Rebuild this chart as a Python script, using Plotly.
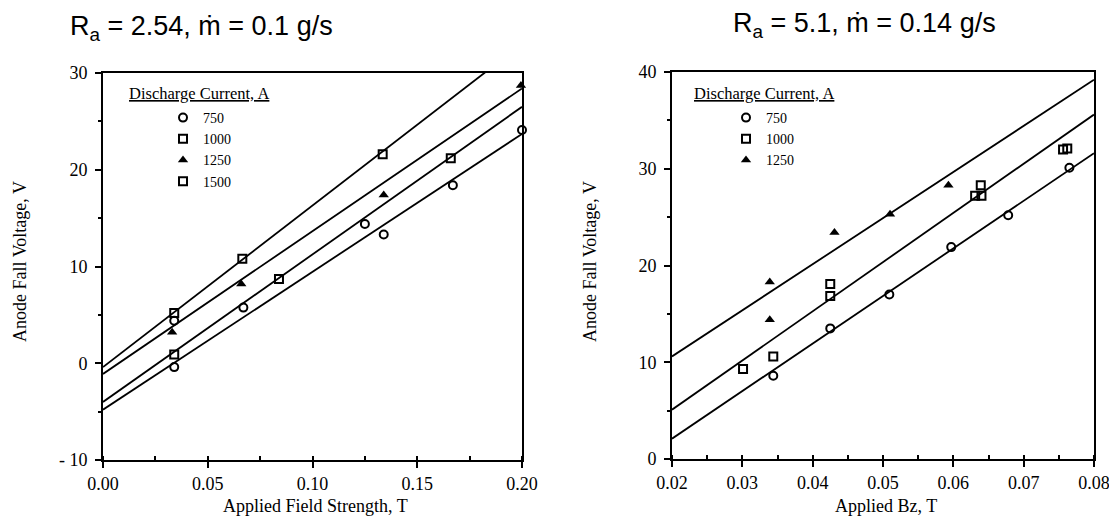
import plotly.graph_objects as go

# ---------------- Left panel (Ra = 2.54, mdot = 0.1 g/s) ----------------
L_750_x = [0.034, 0.034, 0.067, 0.125, 0.134, 0.167, 0.200]
L_750_y = [-0.4, 4.4, 5.75, 14.4, 13.3, 18.4, 24.1]
L_1000_x = [0.034, 0.084, 0.166]
L_1000_y = [0.9, 8.7, 21.2]
L_1250_x = [0.033, 0.066, 0.134, 0.1995]
L_1250_y = [3.2, 8.2, 17.4, 28.7]
L_1500_x = [0.034, 0.0665, 0.1335]
L_1500_y = [5.2, 10.8, 21.6]
# fitted lines: value at x=0.00 and at x=0.20
L_fit_x = [0.0, 0.2]
L_fit_y = [[-0.4, 33.0], [-1.1, 28.4], [-4.0, 26.5], [-4.8, 23.7]]

# ---------------- Right panel (Ra = 5.1, mdot = 0.14 g/s) ----------------
R_750_x = [0.0344, 0.0425, 0.0509, 0.0597, 0.0678, 0.0765]
R_750_y = [8.6, 13.5, 17.0, 21.9, 25.2, 30.1]
R_1000_x = [0.0301, 0.0344, 0.0425, 0.0425, 0.0631, 0.0640, 0.0639, 0.0756, 0.0762]
R_1000_y = [9.3, 10.6, 16.85, 18.1, 27.2, 27.2, 28.3, 32.0, 32.1]
R_1250_x = [0.0339, 0.0339, 0.0431, 0.0510, 0.0593]
R_1250_y = [14.4, 18.3, 23.4, 25.3, 28.3]
# fitted lines: value at x=0.02 and at x=0.08
R_fit_x = [0.02, 0.08]
R_fit_y = [[10.6, 39.2], [5.1, 35.6], [2.1, 31.6]]

L_yticks = [-10, 0, 10, 20, 30]
L_yticktext = ["- 10", "0", "10", "20", "30"]
L_xticks = [0.0, 0.05, 0.10, 0.15, 0.20]
L_xticktext = ["0.00", "0.05", "0.10", "0.15", "0.20"]
R_yticks = [0, 10, 20, 30, 40]
R_xticks = [0.02, 0.03, 0.04, 0.05, 0.06, 0.07, 0.08]
R_xticktext = ["0.02", "0.03", "0.04", "0.05", "0.06", "0.07", "0.08"]

SERIF = "Liberation Serif"
SANS = "Liberation Sans"
OFF = 8  # page body margin
W, H = 1117 - OFF, 523 - OFF

fig = go.Figure()

mk_circle = dict(symbol="circle-open", size=8, color="black", line=dict(width=2))
mk_square = dict(symbol="square-open", size=8, color="black", line=dict(width=2))
mk_tri = dict(symbol="triangle-up", size=9, color="black", line=dict(width=0))

for yy in L_fit_y:
    fig.add_trace(go.Scatter(x=L_fit_x, y=yy, mode="lines", line=dict(color="black", width=1.8),
                             showlegend=False, xaxis="x", yaxis="y", hoverinfo="skip"))
for yy in R_fit_y:
    fig.add_trace(go.Scatter(x=R_fit_x, y=yy, mode="lines", line=dict(color="black", width=1.8),
                             showlegend=False, xaxis="x2", yaxis="y2", hoverinfo="skip"))

fig.add_trace(go.Scatter(x=L_750_x, y=L_750_y, mode="markers", marker=mk_circle, name="750",
                         legend="legend", cliponaxis=False))
fig.add_trace(go.Scatter(x=L_1000_x, y=L_1000_y, mode="markers", marker=mk_square, name="1000",
                         legend="legend", cliponaxis=False))
fig.add_trace(go.Scatter(x=L_1250_x, y=L_1250_y, mode="markers", marker=mk_tri, name="1250",
                         legend="legend", cliponaxis=False))
fig.add_trace(go.Scatter(x=L_1500_x, y=L_1500_y, mode="markers", marker=mk_square, name="1500",
                         legend="legend", cliponaxis=False))

fig.add_trace(go.Scatter(x=R_750_x, y=R_750_y, mode="markers", marker=mk_circle, name="750",
                         legend="legend2", xaxis="x2", yaxis="y2", cliponaxis=False))
fig.add_trace(go.Scatter(x=R_1000_x, y=R_1000_y, mode="markers", marker=mk_square, name="1000",
                         legend="legend2", xaxis="x2", yaxis="y2", cliponaxis=False))
fig.add_trace(go.Scatter(x=R_1250_x, y=R_1250_y, mode="markers", marker=mk_tri, name="1250",
                         legend="legend2", xaxis="x2", yaxis="y2", cliponaxis=False))


def px_x(p):
    return (p - OFF) / W


def px_y(p):
    return 1 - (p - OFF) / H


axis_common = dict(showline=True, linecolor="black", linewidth=2, mirror=True, showgrid=False,
                   zeroline=False, ticks="outside", ticklen=6, tickwidth=1.5, tickcolor="black",
                   automargin=False,
                   tickfont=dict(family=SERIF, size=18, color="black"))

fig.update_layout(
    width=W, height=H, paper_bgcolor="white", plot_bgcolor="white",
    margin=dict(l=0, r=0, t=0, b=0, autoexpand=False),
    xaxis=dict(domain=[px_x(103), px_x(522)], range=[0, 0.2], tickvals=L_xticks, ticktext=L_xticktext,
               minor=dict(dtick=0.025, ticks="inside", ticklen=4, tickcolor="black"),
               anchor="y", **axis_common),
    yaxis=dict(domain=[px_y(460), px_y(73)], range=[-10, 30], tickvals=L_yticks, ticktext=L_yticktext,
               minor=dict(dtick=5, ticks="outside", ticklen=3, tickcolor="black"),
               anchor="x", ticklabelstandoff=4, **axis_common),
    xaxis2=dict(domain=[px_x(672), px_x(1094)], range=[0.02, 0.08], tickvals=R_xticks, ticktext=R_xticktext,
                minor=dict(dtick=0.005, ticks="inside", ticklen=4, tickcolor="black"),
                anchor="y2", **axis_common),
    yaxis2=dict(domain=[px_y(459), px_y(72)], range=[0, 40], tickvals=R_yticks,
                minor=dict(dtick=5, ticks="outside", ticklen=3, tickcolor="black"),
                anchor="x2", ticklabelstandoff=4, **axis_common),
    legend=dict(x=px_x(163), y=px_y(102), xanchor="left", yanchor="top", bgcolor="rgba(0,0,0,0)",
                font=dict(family=SERIF, size=14, color="black"), tracegroupgap=0, itemwidth=30),
    legend2=dict(x=px_x(726), y=px_y(102), xanchor="left", yanchor="top", bgcolor="rgba(0,0,0,0)",
                 font=dict(family=SERIF, size=14, color="black"), tracegroupgap=0, itemwidth=30),
)

annots = [
    dict(text="R<sub>a</sub> = 2.54, ṁ = 0.1 g/s", x=px_x(68), y=px_y(28), xanchor="left", yanchor="middle",
         font=dict(family=SANS, size=27, color="black")),
    dict(text="R<sub>a</sub> = 5.1, ṁ = 0.14 g/s", x=px_x(731), y=px_y(25), xanchor="left", yanchor="middle",
         font=dict(family=SANS, size=27, color="black")),
    dict(text="<u>Discharge Current, A</u>", x=px_x(127), y=px_y(93), xanchor="left", yanchor="middle",
         font=dict(family=SERIF, size=16.5, color="black")),
    dict(text="<u>Discharge Current, A</u>", x=px_x(692), y=px_y(93), xanchor="left", yanchor="middle",
         font=dict(family=SERIF, size=16.5, color="black")),
    dict(text="Anode Fall Voltage, V", x=px_x(20), y=px_y(262), xanchor="center", yanchor="middle",
         textangle=-90, font=dict(family=SERIF, size=18, color="black")),
    dict(text="Anode Fall Voltage, V", x=px_x(590), y=px_y(262), xanchor="center", yanchor="middle",
         textangle=-90, font=dict(family=SERIF, size=18, color="black")),
    dict(text="Applied Field Strength, T", x=px_x(315), y=px_y(506), xanchor="center", yanchor="middle",
         font=dict(family=SERIF, size=18, color="black")),
    dict(text="Applied Bz, T", x=px_x(886), y=px_y(506), xanchor="center", yanchor="middle",
         font=dict(family=SERIF, size=18, color="black")),
]
for a in annots:
    a.update(xref="paper", yref="paper", showarrow=False)
    fig.add_annotation(**a)

fig.write_html("out.html")
